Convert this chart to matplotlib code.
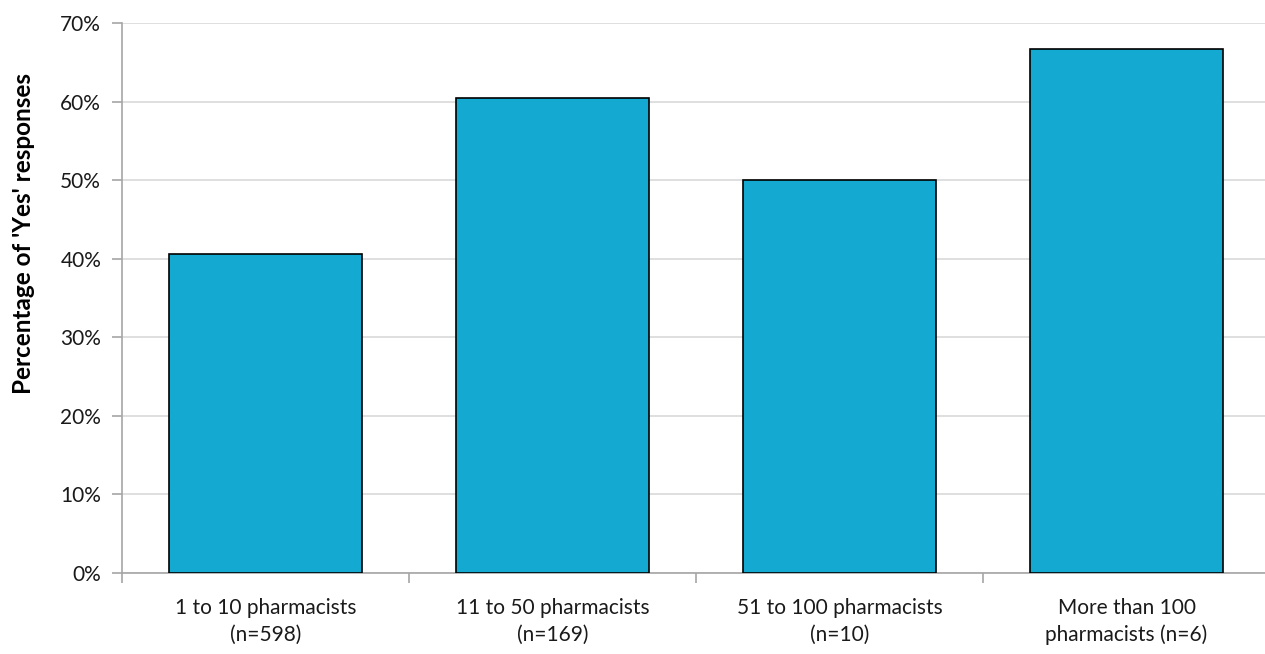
import numpy as np
import matplotlib.pyplot as plt
from matplotlib.ticker import FixedLocator, PercentFormatter

categories = ['1 to 10 pharmacists\n(n=598)', '11 to 50 pharmacists\n(n=169)',
              '51 to 100 pharmacists\n(n=10)', 'More than 100\npharmacists (n=6)']
yes_pct = [40.6, 60.4, 50.0, 66.7]

plt.rcParams['font.family'] = ['Lato', 'DejaVu Sans']

fig = plt.figure(figsize=(12.65, 6.54), dpi=100)
ax = fig.add_axes([122 / 1265, (654 - 573) / 654, 1148 / 1265, 550 / 654])

x = np.arange(len(categories))
ax.bar(x, yes_pct, width=0.67, color='#14a9d0', edgecolor='black', linewidth=1.2, zorder=3)

ax.set_xlim(-0.5, len(categories) - 0.5)
ax.set_ylim(0, 70)
ax.set_yticks(np.arange(0, 71, 10))
ax.yaxis.set_major_formatter(PercentFormatter(decimals=0))
ax.set_xticks(x)
ax.set_xticklabels(categories, fontsize=15, color='#1a1a1a', linespacing=1.4)
ax.xaxis.set_minor_locator(FixedLocator(np.arange(-0.5, len(categories), 1)))
ax.tick_params(axis='x', which='major', length=0, pad=18)
ax.tick_params(axis='x', which='minor', length=7, color='#a6a6a6', width=1.2)
ax.tick_params(axis='y', length=7, color='#a6a6a6', width=1.2, labelsize=15, labelcolor='#1a1a1a', pad=8)

ax.grid(axis='y', color='#d9d9d9', linewidth=1.2, zorder=0)
for side in ['top', 'right']:
    ax.spines[side].set_visible(False)
for side in ['left', 'bottom']:
    ax.spines[side].set_color('#a6a6a6')
    ax.spines[side].set_linewidth(1.2)

ax.set_ylabel("Percentage of 'Yes' responses", fontsize=17.5, fontweight='bold')
ax.yaxis.set_label_coords(-0.076, 0.618)

fig.savefig('out.png', dpi=100)
